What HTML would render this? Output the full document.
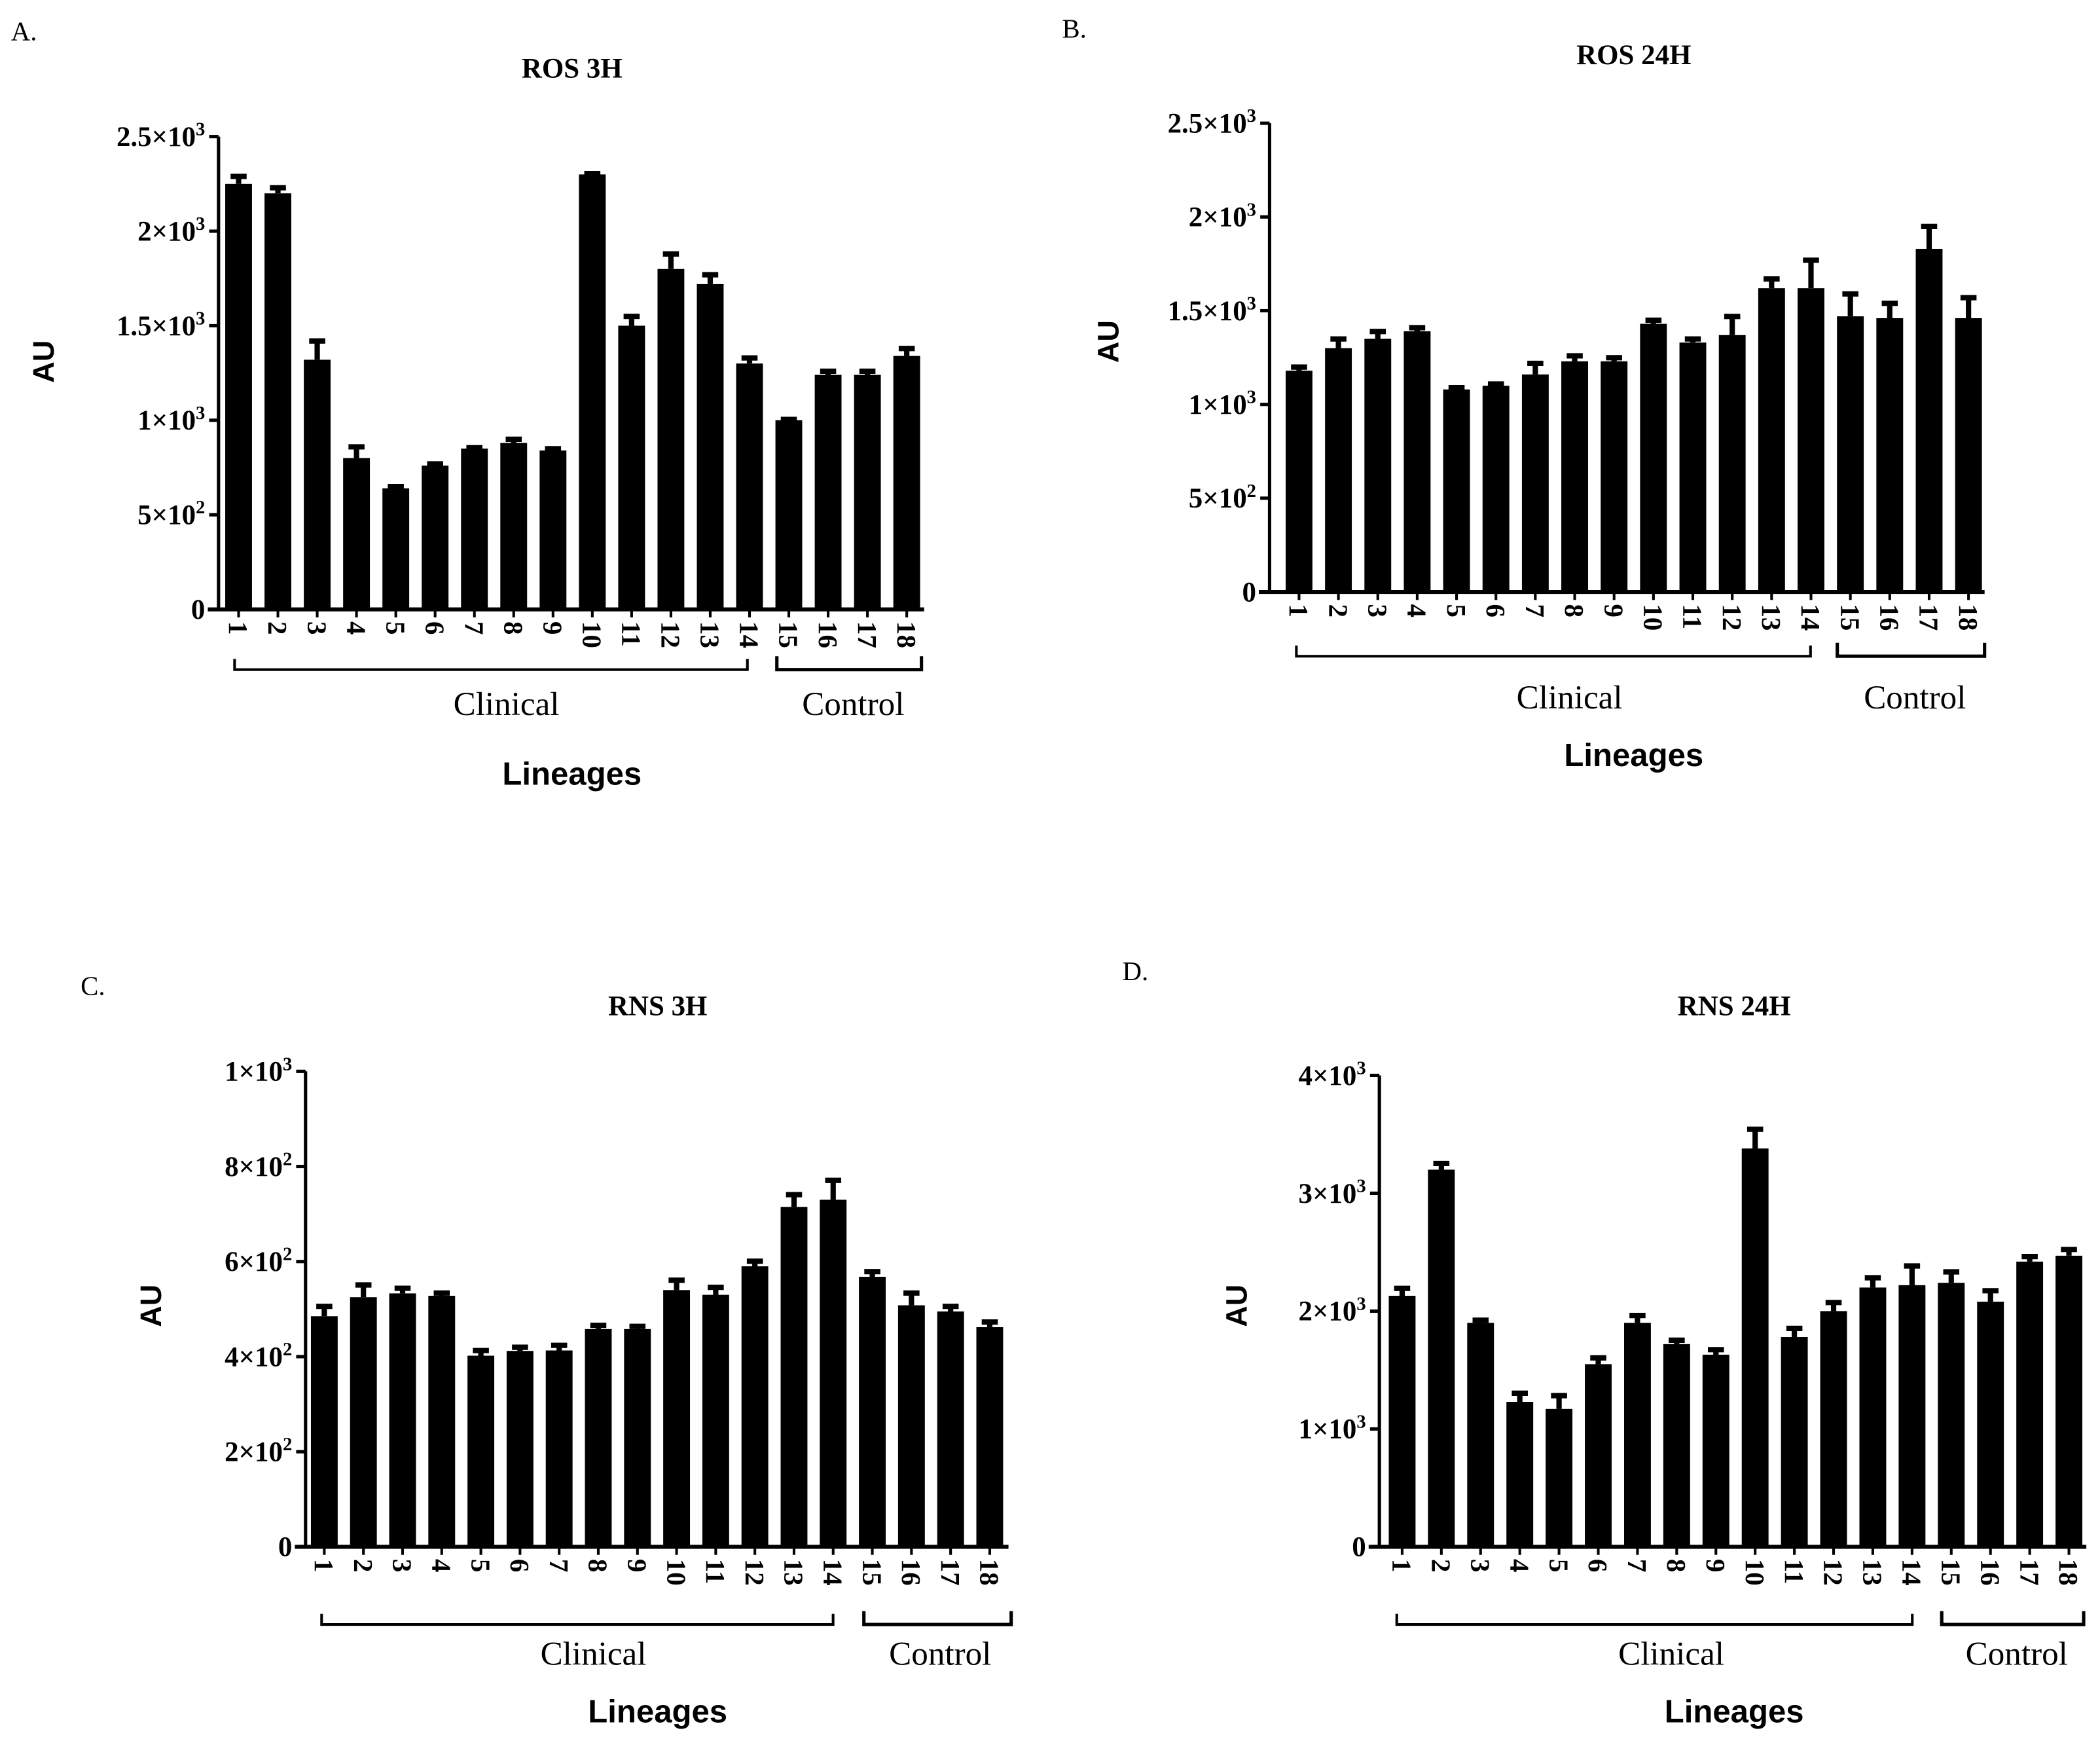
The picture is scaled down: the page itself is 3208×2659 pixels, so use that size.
<!DOCTYPE html>
<html><head><meta charset="utf-8"><style>
html,body{margin:0;padding:0;background:#fff;}
svg{display:block;}
</style></head><body>
<svg id="fig" xmlns="http://www.w3.org/2000/svg" width="3208" height="2659" viewBox="0 0 1568 1300">
<rect width="1568" height="1300" fill="#fff"/>
</svg>
<script>
const categories = ["1","2","3","4","5","6","7","8","9","10","11","12","13","14","15","16","17","18"];
const rosA = [2250,2200,1320,800,640,760,850,880,840,2300,1500,1800,1720,1300,1000,1240,1240,1340];
const rosAErr = [50,40,110,70,20,20,15,30,20,15,60,90,60,40,15,30,30,50];
const rosB = [1180,1300,1350,1390,1080,1100,1160,1230,1230,1430,1330,1370,1620,1620,1470,1460,1830,1460];
const rosBErr = [30,60,50,30,20,20,70,40,30,30,30,110,60,160,130,90,130,120];
const rnsC = [485,525,533,528,402,412,413,458,458,540,530,590,715,730,568,508,495,462];
const rnsCErr = [25,30,15,10,15,12,15,12,10,25,20,15,30,45,15,30,15,15];
const rnsD = [2130,3200,1900,1230,1170,1550,1900,1720,1630,3380,1780,2000,2200,2220,2240,2080,2420,2470];
const rnsDErr = [80,70,40,90,130,70,80,50,60,180,90,90,100,180,110,110,60,70];
const ticksAB = [[0,"0",""],[500,"5×10","2"],[1000,"1×10","3"],[1500,"1.5×10","3"],[2000,"2×10","3"],[2500,"2.5×10","3"]];
const ticksC = [[0,"0",""],[200,"2×10","2"],[400,"4×10","2"],[600,"6×10","2"],[800,"8×10","2"],[1000,"1×10","3"]];
const ticksD = [[0,"0",""],[1000,"1×10","3"],[2000,"2×10","3"],[3000,"3×10","3"],[4000,"4×10","3"]];

const NS="http://www.w3.org/2000/svg";
const svg=document.getElementById('fig');
function mk(tag,attrs,parent,text){const e=document.createElementNS(NS,tag);for(const k in attrs)e.setAttribute(k,attrs[k]);if(text!==undefined)e.textContent=text;(parent||svg).appendChild(e);return e;}

const panels=[
 {id:'a',label:'A.',lx:8,ly:30,title:'ROS 3H',tx:427,ty:58,ax:163,y0:455,max:2500,ytop:102,x1:178,x18:677,xend:690,data:rosA,err:rosAErr,ticks:ticksAB,
  br:[175,558,580,688,500],clx:378,cly:534,cox:637,ly2:586,aux:40,auy:270},
 {id:'b',label:'B.',lx:793,ly:28,title:'ROS 24H',tx:1220,ty:48,ax:948,y0:442,max:2500,ytop:92,x1:970,x18:1470,xend:1482,data:rosB,err:rosBErr,ticks:ticksAB,
  br:[968,1352,1372,1482,490],clx:1172,cly:529,cox:1430,ly2:572,aux:835,auy:255},
 {id:'c',label:'C.',lx:60,ly:743,title:'RNS 3H',tx:491,ty:758,ax:228,y0:1155,max:1000,ytop:800,x1:242,x18:739,xend:753,data:rnsC,err:rnsCErr,ticks:ticksC,
  br:[240,622,645,755,1213],clx:443,cly:1243,cox:702,ly2:1286,aux:120,auy:975},
 {id:'d',label:'D.',lx:838,ly:732,title:'RNS 24H',tx:1295,ty:758,ax:1030,y0:1155,max:4000,ytop:803,x1:1047,x18:1545,xend:1558,data:rnsD,err:rnsDErr,ticks:ticksD,
  br:[1043,1428,1450,1556,1213],clx:1248,cly:1243,cox:1506,ly2:1286,aux:931,auy:975}
];

panels.forEach(p=>{
 const g=mk('g',{});
 
 
 const yS=v=>p.y0-(v/p.max)*(p.y0-p.ytop);
 const xS=i=>p.x1+i*(p.x18-p.x1)/(categories.length-1);
 const serif='"Liberation Serif", serif', sans='"Liberation Sans", sans-serif';
 let t=mk('text',{x:p.lx,y:p.ly,'font-family':serif,'font-size':20},g,p.label);
 
 t=mk('text',{x:p.tx,y:p.ty,'text-anchor':'middle','font-family':serif,'font-weight':'bold','font-size':21},g,p.title);
 
 t=mk('text',{x:p.aux,y:p.auy,'text-anchor':'middle','font-family':sans,'font-weight':'bold','font-size':22,transform:`rotate(-90 ${p.aux} ${p.auy})`},g,'AU');
 
 let l=mk('line',{x1:p.ax,y1:p.ytop,x2:p.ax,y2:p.y0+1,stroke:'#000','stroke-width':2.5},g);
 
 l=mk('line',{x1:p.ax-8,y1:p.y0,x2:p.xend,y2:p.y0,stroke:'#000','stroke-width':3},g);
 
 p.ticks.forEach(tk=>{
  const y=yS(tk[0]);
  const tl=mk('line',{x1:p.ax-7,y1:y,x2:p.ax,y2:y,stroke:'#000','stroke-width':2.5},g);
  
  const tt=mk('text',{x:p.ax-10,y:y+7,'text-anchor':'end','font-family':serif,'font-weight':'bold','font-size':21},g);
  
  mk('tspan',{},tt,tk[1]);
  if(tk[2]){mk('tspan',{dy:-8,'font-size':14},tt,tk[2]);}
 });
 categories.forEach((c,i)=>{
  const x=xS(i), v=p.data[i], e=p.err[i];
  const b=mk('rect',{x:x-10,y:yS(v),width:20,height:p.y0-yS(v),fill:'#000'},g);
  
  const el=mk('line',{x1:x,y1:yS(v+e),x2:x,y2:yS(v),stroke:'#000','stroke-width':4},g);
  
  const cp=mk('line',{x1:x-6,y1:yS(v+e)+1.5,x2:x+6,y2:yS(v+e)+1.5,stroke:'#000','stroke-width':4},g);
  
  const xt=mk('line',{x1:x,y1:p.y0,x2:x,y2:p.y0+6,stroke:'#000','stroke-width':2},g);
  
  const lt=mk('text',{x:x-7,y:p.y0+9,'font-family':serif,'font-weight':'bold','font-size':20,transform:`rotate(90 ${x-7} ${p.y0+9})`},g,c);
  
 });
 const [c1,c2,k1,k2,by]=p.br;
 let br=mk('path',{d:`M${c1} ${by-8}V${by}H${c2}V${by-8}`,fill:'none',stroke:'#000','stroke-width':2},g);
 
 br=mk('path',{d:`M${k1} ${by-10}V${by}H${k2}V${by-10}`,fill:'none',stroke:'#000','stroke-width':2.5},g);
 
 t=mk('text',{x:p.clx,y:p.cly,'text-anchor':'middle','font-family':serif,'font-size':25},g,'Clinical');
 
 t=mk('text',{x:p.cox,y:p.cly,'text-anchor':'middle','font-family':serif,'font-size':25},g,'Control');
 
 t=mk('text',{x:p.tx,y:p.ly2,'text-anchor':'middle','font-family':sans,'font-weight':'bold','font-size':24},g,'Lineages');
 
});
</script>
</body></html>
